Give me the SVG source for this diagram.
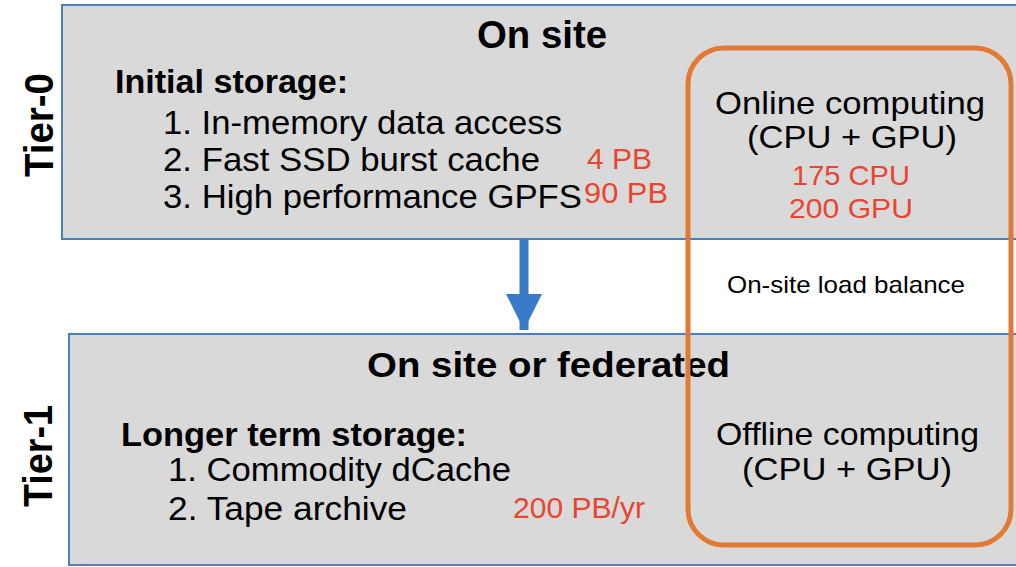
<svg xmlns="http://www.w3.org/2000/svg" width="1016" height="567" viewBox="0 0 1016 567">
  <style>
    .tier { fill: #d9d9d9; stroke: #4a7fc0; stroke-width: 2; }
    .t { font-family: "Liberation Sans", Arial, sans-serif; fill: #000; }
    .b { font-weight: bold; }
    .red { fill: #e9452f; }
    .side { font-family: "Liberation Sans", Arial, sans-serif; font-weight: bold; font-size: 40px; fill: #000; text-anchor: middle; }
  </style>
  <defs>
    <marker id="arrowHead" viewBox="0 0 36 36" refX="36" refY="18" markerUnits="userSpaceOnUse" markerWidth="36" markerHeight="36" orient="auto">
      <path d="M0,0 L36,18 L0,36 Z" fill="#3a7bc8"/>
    </marker>
  </defs>

  <rect width="1016" height="567" fill="#ffffff"/>

  <!-- Tier-0: on-site initial storage -->
  <g id="tier0">
    <rect class="tier" x="62" y="5" width="970" height="234"/>
    <text class="t b" x="477" y="48" font-size="38" textLength="130" lengthAdjust="spacingAndGlyphs">On site</text>
    <text class="t b" x="115" y="93" font-size="33" textLength="233" lengthAdjust="spacingAndGlyphs">Initial storage:</text>
    <text class="t" x="163" y="134" font-size="33" textLength="399" lengthAdjust="spacingAndGlyphs">1. In-memory data access</text>
    <text class="t" x="163" y="171" font-size="33" textLength="377" lengthAdjust="spacingAndGlyphs">2. Fast SSD burst cache</text>
    <text class="t" x="163" y="208" font-size="33" textLength="419" lengthAdjust="spacingAndGlyphs">3. High performance GPFS</text>
    <text class="t red" x="587" y="169" font-size="29" textLength="65" lengthAdjust="spacingAndGlyphs">4 PB</text>
    <text class="t red" x="584" y="203" font-size="29" textLength="84" lengthAdjust="spacingAndGlyphs">90 PB</text>
  </g>

  <!-- Tier-1: on-site or federated longer-term storage -->
  <g id="tier1">
    <rect class="tier" x="69" y="334" width="963" height="231"/>
    <text class="t b" x="367" y="377" font-size="35" textLength="363" lengthAdjust="spacingAndGlyphs">On site or federated</text>
    <text class="t b" x="121" y="446" font-size="33" textLength="346" lengthAdjust="spacingAndGlyphs">Longer term storage:</text>
    <text class="t" x="168" y="481" font-size="33" textLength="343" lengthAdjust="spacingAndGlyphs">1. Commodity dCache</text>
    <text class="t" x="168" y="520" font-size="33" textLength="239" lengthAdjust="spacingAndGlyphs">2. Tape archive</text>
    <text class="t red" x="513" y="518" font-size="29" textLength="132" lengthAdjust="spacingAndGlyphs">200 PB/yr</text>
  </g>

  <!-- Tier labels -->
  <g id="tier-labels">
    <text class="side" transform="translate(53,125) rotate(-90)" textLength="104" lengthAdjust="spacingAndGlyphs">Tier-0</text>
    <text class="side" transform="translate(52,456) rotate(-90)" textLength="102" lengthAdjust="spacingAndGlyphs">Tier-1</text>
  </g>

  <!-- Computing column -->
  <g id="computing">
    <text class="t" x="715" y="114" font-size="32" textLength="270" lengthAdjust="spacingAndGlyphs">Online computing</text>
    <text class="t" x="747" y="148" font-size="32" textLength="210" lengthAdjust="spacingAndGlyphs">(CPU + GPU)</text>
    <text class="t red" x="792" y="185" font-size="28" textLength="118" lengthAdjust="spacingAndGlyphs">175 CPU</text>
    <text class="t red" x="789" y="218" font-size="28" textLength="124" lengthAdjust="spacingAndGlyphs">200 GPU</text>
    <text class="t" x="727" y="293" font-size="24" textLength="238" lengthAdjust="spacingAndGlyphs">On-site load balance</text>
    <text class="t" x="716" y="445" font-size="32" textLength="263" lengthAdjust="spacingAndGlyphs">Offline computing</text>
    <text class="t" x="742" y="480" font-size="32" textLength="210" lengthAdjust="spacingAndGlyphs">(CPU + GPU)</text>
    <rect x="688" y="48" width="323" height="497" rx="36" ry="36" fill="none" stroke="#e27a33" stroke-width="5"/>
  </g>

  <!-- Connectors -->
  <g id="connectors">
    <line x1="524" y1="239" x2="524" y2="330" stroke="#3a7bc8" stroke-width="9" marker-end="url(#arrowHead)"/>
  </g>
</svg>
